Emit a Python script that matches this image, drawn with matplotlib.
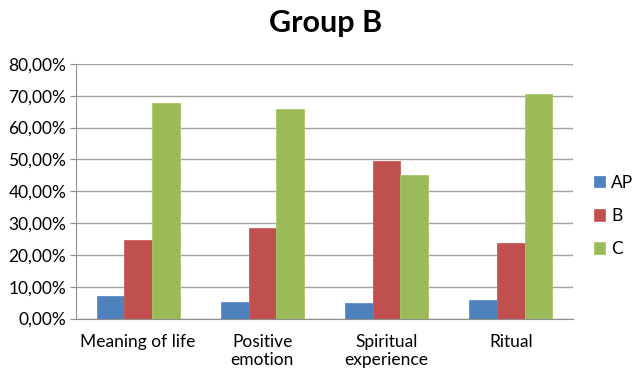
import matplotlib
matplotlib.use("Agg")
import matplotlib.pyplot as plt
import numpy as np
from matplotlib.ticker import FuncFormatter, MultipleLocator

categories = ["Meaning of life", "Positive\nemotion", "Spiritual\nexperience", "Ritual"]
series_names = ["AP", "B", "C"]
ap = [7.0, 5.3, 5.0, 5.7]
b = [24.7, 28.3, 49.5, 23.7]
c = [67.7, 65.7, 45.2, 70.5]
colors = ["#4F81BD", "#C0504D", "#9BBB59"]
edges = ["#5B8CC8", "#CC5E5B", "#A8C66A"]

plt.rcParams['font.family'] = ['Lato', 'DejaVu Sans']

fig = plt.figure(figsize=(6.42, 3.77), dpi=100)
ax = fig.add_axes([76/642, 1-318.5/377, (573-76)/642, (318.5-64)/377])

x = np.arange(len(categories))
w = 0.222
for i, (vals, col, ec, name) in enumerate(zip([ap, b, c], colors, edges, series_names)):
    ax.bar(x + (i-1)*w, vals, w, color=col, edgecolor=ec, linewidth=0.6, label=name, zorder=3)

ax.set_xlim(-0.5, 3.5)
ax.set_ylim(0, 80)
ax.yaxis.set_major_locator(MultipleLocator(10))
ax.yaxis.set_major_formatter(FuncFormatter(lambda v, p: f"{v:.2f}%".replace(".", ",")))
ax.grid(axis='y', color='#A0A0A0', linewidth=1.0, zorder=0)
ax.set_axisbelow(True)
for s in ['top', 'right']:
    ax.spines[s].set_visible(False)
for s in ['left', 'bottom']:
    ax.spines[s].set_color('#909090')
ax.set_xticks(x)
ax.set_xticklabels(categories, fontsize=12.5, linespacing=1.15)
ax.tick_params(axis='x', length=0, pad=11)
ax.tick_params(axis='y', length=4, color='#909090', labelsize=12.5, pad=3)

fig.text(326/642, 1-23/377, "Group B", ha='center', va='center', fontsize=22, fontweight='bold')

handles, labels = ax.get_legend_handles_labels()
fig.legend(handles, labels, loc='center left', bbox_to_anchor=(594/642, 1-216/377),
           frameon=False, fontsize=12.5, handlelength=0.65, handleheight=0.65,
           handletextpad=0.35, labelspacing=1.0, borderpad=0, borderaxespad=0)

fig.savefig("out.png", dpi=100)
